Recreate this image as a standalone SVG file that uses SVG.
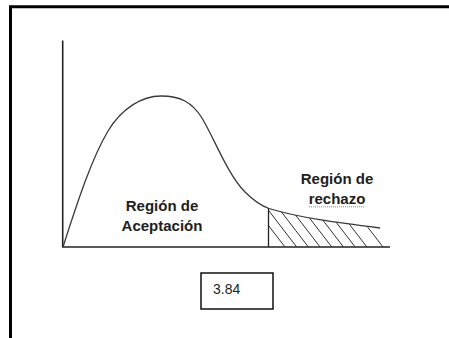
<svg xmlns="http://www.w3.org/2000/svg" width="449" height="338" viewBox="0 0 449 338">
  <style>
    .frame { fill: none; stroke: #000; stroke-width: 3; }
    .axis { fill: none; stroke: #222; stroke-width: 1.6; }
    .curve { fill: none; stroke: #3a3a3a; stroke-width: 1.3; }
    .hatch { stroke: #333; stroke-width: 1; }
    .lbl { font-family: "Liberation Sans", Arial, sans-serif; font-weight: bold; font-size: 15px; fill: #1e1e1e; text-anchor: middle; }
    .val { font-family: "Liberation Sans", Arial, sans-serif; font-size: 14px; fill: #1e1e1e; }
    .box { fill: #fff; stroke: #111; stroke-width: 1.5; }
  </style>
  <defs>
    <clipPath id="tailClip">
      <path d="M269,208.5 C300,218 340,223 380,228 L390,247 L269,247 Z"/>
    </clipPath>
  </defs>
  <rect width="449" height="338" fill="#fff"/>
  <g id="frame">
    <path class="frame" d="M10.5,338 V6.8 H449"/>
  </g>
  <g id="axes">
    <line class="axis" x1="62.7" y1="40.5" x2="62.7" y2="247"/>
    <line class="axis" x1="62" y1="247" x2="390" y2="247"/>
  </g>
  <g id="curve">
    <path class="curve" d="M63,247 C78,200 92,158 108,131 C122,108 142,96 161,96 C180,96 192,102 202,118 C215,140 228,175 245,192 C255,202 262,206 269,208.5 C300,218 340,223 380,228"/>
  </g>
  <g id="rejection-region">
    <line class="axis" x1="268.5" y1="208" x2="268.5" y2="247" style="stroke-width:1.3"/>
    <g clip-path="url(#tailClip)" class="hatch">
      <line x1="285" y1="247" x2="245" y2="195"/>
      <line x1="296.7" y1="247" x2="256.7" y2="195"/>
      <line x1="308.4" y1="247" x2="268.4" y2="195"/>
      <line x1="320.1" y1="247" x2="280.1" y2="195"/>
      <line x1="331.8" y1="247" x2="291.8" y2="195"/>
      <line x1="343.5" y1="247" x2="303.5" y2="195"/>
      <line x1="355.2" y1="247" x2="315.2" y2="195"/>
      <line x1="366.9" y1="247" x2="326.9" y2="195"/>
      <line x1="383" y1="247" x2="343" y2="195"/>
    </g>
  </g>
  <g id="label-aceptacion">
    <text class="lbl" x="162" y="211">Región de</text>
    <text class="lbl" x="162" y="230.5">Aceptación</text>
  </g>
  <g id="label-rechazo">
    <text class="lbl" x="337" y="184">Región de</text>
    <text class="lbl" x="337" y="204">rechazo</text>
    <line x1="309" y1="206.8" x2="365" y2="206.8" stroke="#5fae4a" stroke-width="1" stroke-dasharray="1,1"/>
  </g>
  <g id="critical-value">
    <rect class="box" x="201" y="273" width="72" height="36"/>
    <text class="val" x="213" y="293.5">3.84</text>
  </g>
</svg>
